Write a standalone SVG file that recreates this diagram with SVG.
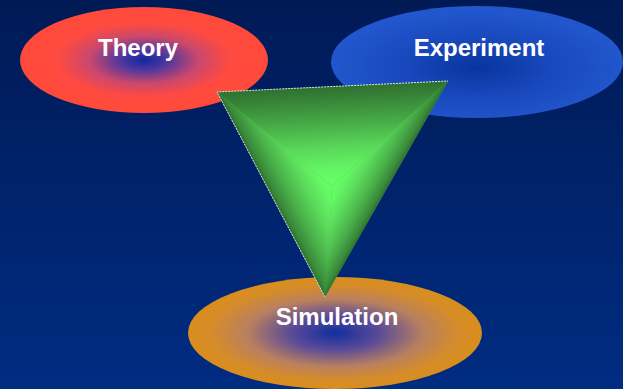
<svg xmlns="http://www.w3.org/2000/svg" width="623" height="389" viewBox="0 0 623 389">
  <defs>
    <linearGradient id="bg" x1="0" y1="0" x2="0" y2="1">
      <stop offset="0" stop-color="#001a55"/>
      <stop offset="1" stop-color="#002c82"/>
    </linearGradient>
    <radialGradient id="gTheory" cx="0.5" cy="0.5" r="0.5">
      <stop offset="0" stop-color="#12289c"/>
      <stop offset="0.18" stop-color="#4c36a0"/>
      <stop offset="0.45" stop-color="#cc486c"/>
      <stop offset="0.7" stop-color="#ff4a40"/>
      <stop offset="1" stop-color="#ff4a3a"/>
    </radialGradient>
    <radialGradient id="gExperiment" cx="0.5" cy="0.55" r="0.5">
      <stop offset="0" stop-color="#08349e"/>
      <stop offset="0.5" stop-color="#1848bc"/>
      <stop offset="1" stop-color="#2256cc"/>
    </radialGradient>
    <radialGradient id="gSimulation" cx="0.5" cy="0.5" r="0.5">
      <stop offset="0" stop-color="#122e9e"/>
      <stop offset="0.3" stop-color="#5a4a98"/>
      <stop offset="0.6" stop-color="#b88060"/>
      <stop offset="0.85" stop-color="#d68c28"/>
      <stop offset="1" stop-color="#d88e1c"/>
    </radialGradient>
    <!-- facet shading for the triangle: dark rim, bright centre -->
    <linearGradient id="fTop" gradientUnits="userSpaceOnUse" x1="327.3" y1="86.7" x2="332" y2="186">
      <stop offset="0" stop-color="#2e7030"/>
      <stop offset="0.12" stop-color="#378237"/>
      <stop offset="0.35" stop-color="#45a845"/>
      <stop offset="0.62" stop-color="#5ad85a"/>
      <stop offset="0.85" stop-color="#64f864"/>
      <stop offset="1" stop-color="#66ff66"/>
    </linearGradient>
    <linearGradient id="fRight" gradientUnits="userSpaceOnUse" x1="374.5" y1="210.1" x2="332" y2="186">
      <stop offset="0" stop-color="#2e7030"/>
      <stop offset="0.08" stop-color="#3a8a3a"/>
      <stop offset="0.3" stop-color="#4ab24a"/>
      <stop offset="0.6" stop-color="#5cdc5c"/>
      <stop offset="0.85" stop-color="#64f864"/>
      <stop offset="1" stop-color="#66ff66"/>
    </linearGradient>
    <linearGradient id="fLeft" gradientUnits="userSpaceOnUse" x1="280.7" y1="213" x2="332" y2="186">
      <stop offset="0" stop-color="#2e7030"/>
      <stop offset="0.08" stop-color="#3a8a3a"/>
      <stop offset="0.3" stop-color="#4ab24a"/>
      <stop offset="0.6" stop-color="#5cdc5c"/>
      <stop offset="0.85" stop-color="#64f864"/>
      <stop offset="1" stop-color="#66ff66"/>
    </linearGradient>
  </defs>
  <style>
    .label { font-family: "Liberation Sans", Arial, sans-serif; font-weight: bold; font-size: 24px; fill: #ffffff; text-anchor: middle; }
    .rim { fill: none; stroke: #d8e4d8; stroke-width: 1; stroke-dasharray: 2 1; }
  </style>

  <rect x="0" y="0" width="623" height="389" fill="url(#bg)"/>

  <g id="theory">
    <ellipse cx="144" cy="60" rx="124" ry="53" fill="url(#gTheory)"/>
    <text class="label" x="138" y="56">Theory</text>
  </g>

  <g id="experiment">
    <ellipse cx="477" cy="62" rx="146" ry="56" fill="url(#gExperiment)"/>
    <text class="label" x="479" y="56">Experiment</text>
  </g>

  <g id="simulation">
    <ellipse cx="335" cy="333" rx="147" ry="56" fill="url(#gSimulation)"/>
    <text class="label" x="337" y="325">Simulation</text>
  </g>

  <g id="triangle">
    <polygon points="217,92 448,81 325,297" fill="#4ab24a"/>
    <polygon points="217,92 448,81 332,186" fill="url(#fTop)"/>
    <polygon points="448,81 325,297 332,186" fill="url(#fRight)"/>
    <polygon points="325,297 217,92 332,186" fill="url(#fLeft)"/>
    <polyline class="rim" points="325,297 217,92 448,81"/>
  </g>
</svg>
